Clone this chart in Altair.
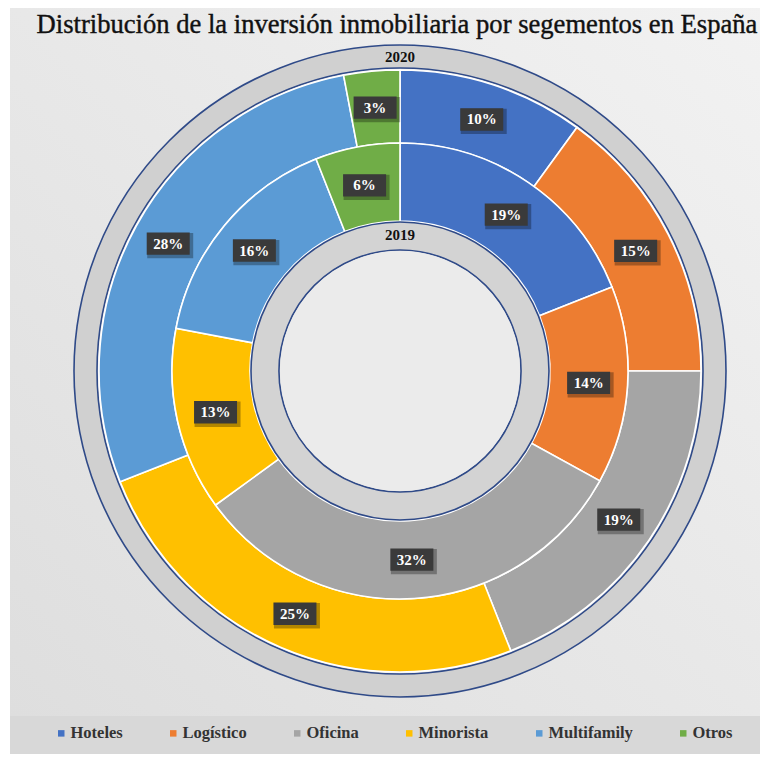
import altair as alt
import pandas as pd

categories = ["Hoteles", "Logístico", "Oficina", "Minorista", "Multifamily", "Otros"]
share_2020 = [10, 15, 19, 25, 28, 3]
share_2019 = [19, 14, 32, 13, 16, 6]
colors = ["#4472C4", "#ED7D31", "#A5A5A5", "#FFC000", "#5B9BD5", "#70AD47"]
years = ["2020", "2019"]
title_text = "Distribución de la inversión inmobiliaria por segementos en España"

rows = []
for yr, vals in zip(years, [share_2020, share_2019]):
    for i, (c, v) in enumerate(zip(categories, vals)):
        rows.append({"year": yr, "category": c, "value": v, "order": i})
df = pd.DataFrame(rows)

CX, CY = 392, 363
R_GRAY_OUT = (303, 326)
R_2020 = (228, 301)
R_2019 = (150, 228)
R_GRAY_IN = (121, 149)
BLUE = "#2f4a88"

color_scale = alt.Color(
    "category:N",
    scale=alt.Scale(domain=categories, range=colors),
    legend=alt.Legend(
        title=None, orient="none", legendX=45, legendY=717, direction="horizontal",
        columns=6, columnPadding=42, symbolType="square", symbolSize=42,
        symbolStrokeWidth=0, labelFont="Liberation Serif", labelFontWeight="bold",
        labelFontSize=16.5, labelColor="#333333", labelOffset=1, padding=0,
    ),
)

one = pd.DataFrame({"k": [0]})

bg = alt.Chart(one).mark_rect(
    color=alt.Gradient(
        gradient="linear",
        stops=[alt.GradientStop(color="#f2f2f2", offset=0), alt.GradientStop(color="#dedede", offset=1)],
        x1=1, x2=0, y1=0, y2=1,
    )
).encode(x=alt.value(2), x2=alt.value(752), y=alt.value(-8), y2=alt.value(708))

band = alt.Chart(one).mark_rect(color="#d8d8d8").encode(
    x=alt.value(2), x2=alt.value(752), y=alt.value(708), y2=alt.value(746)
)

title = alt.Chart(pd.DataFrame({"t": [title_text]})).mark_text(
    font="Liberation Serif", fontSize=26.6, color="#111111", baseline="middle",
    stroke="#111111", strokeWidth=0.4,
).encode(text="t:N", x=alt.value(389), y=alt.value(17))

def ring(r, fill):
    return alt.Chart(one).mark_arc(
        innerRadius=r[0], outerRadius=r[1], theta=0, theta2=6.2832,
        fill=fill, stroke=BLUE, strokeWidth=1.6,
    ).encode(x=alt.value(CX), y=alt.value(CY))

gray_out = ring(R_GRAY_OUT, "#d0d0d0")
gray_in = ring(R_GRAY_IN, "#d3d3d3")
center = alt.Chart(one).mark_arc(
    innerRadius=0, outerRadius=R_GRAY_IN[0] - 1, theta=0, theta2=6.2832, fill="#ebebeb"
).encode(x=alt.value(CX), y=alt.value(CY))

def donut(yr, r):
    return alt.Chart(df).transform_filter(alt.datum.year == yr).mark_arc(
        innerRadius=r[0], outerRadius=r[1], stroke="white", strokeWidth=1.6
    ).encode(
        theta=alt.Theta("value:Q", stack=True, scale=alt.Scale(domain=[0, 100])),
        color=color_scale,
        order=alt.Order("order:Q"),
        x=alt.value(CX), y=alt.value(CY),
    )

ring20 = donut("2020", R_2020)
ring19 = donut("2019", R_2019)

lab = alt.Chart(df).transform_window(
    cum="sum(value)", groupby=["year"], sort=[alt.SortField("order")], frame=[None, 0]
).transform_calculate(
    mid="(datum.cum - datum.value / 2) / 100 * 2 * PI",
    rr=f"datum.year == '2020' ? {(R_2020[0] + R_2020[1]) / 2} : {(R_2019[0] + R_2019[1]) / 2}",
    px=f"{CX} + datum.rr * sin(datum.mid)",
    py=f"{CY} - datum.rr * cos(datum.mid)",
    sx="datum.px + 2",
    sy="datum.py + 2",
    label="datum.value + '%'",
)

shadow = lab.mark_point(shape="M-1,-0.55H1V0.55H-1Z", size=46 * 46, filled=True, color="#000000", opacity=0.3).encode(
    x=alt.X("sx:Q", scale=None), y=alt.Y("sy:Q", scale=None)
)
boxes = lab.mark_point(shape="M-1,-0.52H1V0.52H-1Z", size=43 * 43, filled=True, color="#3a3a3a", opacity=1).encode(
    x=alt.X("px:Q", scale=None), y=alt.Y("py:Q", scale=None)
)
texts = lab.mark_text(font="Liberation Serif", fontWeight="bold", fontSize=15, color="white", baseline="middle").encode(
    x=alt.X("px:Q", scale=None), y=alt.Y("py:Q", scale=None), text="label:N"
)

yl = alt.Chart(pd.DataFrame({"year": years})).transform_calculate(
    py=f"datum.year == '2020' ? {CY - (R_GRAY_OUT[0] + R_GRAY_OUT[1]) / 2} : {CY - (R_GRAY_IN[0] + R_GRAY_IN[1]) / 2 - 1}"
).mark_text(font="Liberation Serif", fontWeight="bold", fontSize=15, color="#111111", baseline="middle").encode(
    x=alt.value(CX), y=alt.Y("py:Q", scale=None), text="year:N"
)

chart = alt.layer(
    bg, band, title, gray_out, ring20, ring19, gray_in, center, shadow, boxes, texts, yl
).properties(width=755, height=746, padding=0, autosize="none").configure_view(stroke=None)

chart.save("out.html", embed_options={"renderer": "svg", "actions": False})
